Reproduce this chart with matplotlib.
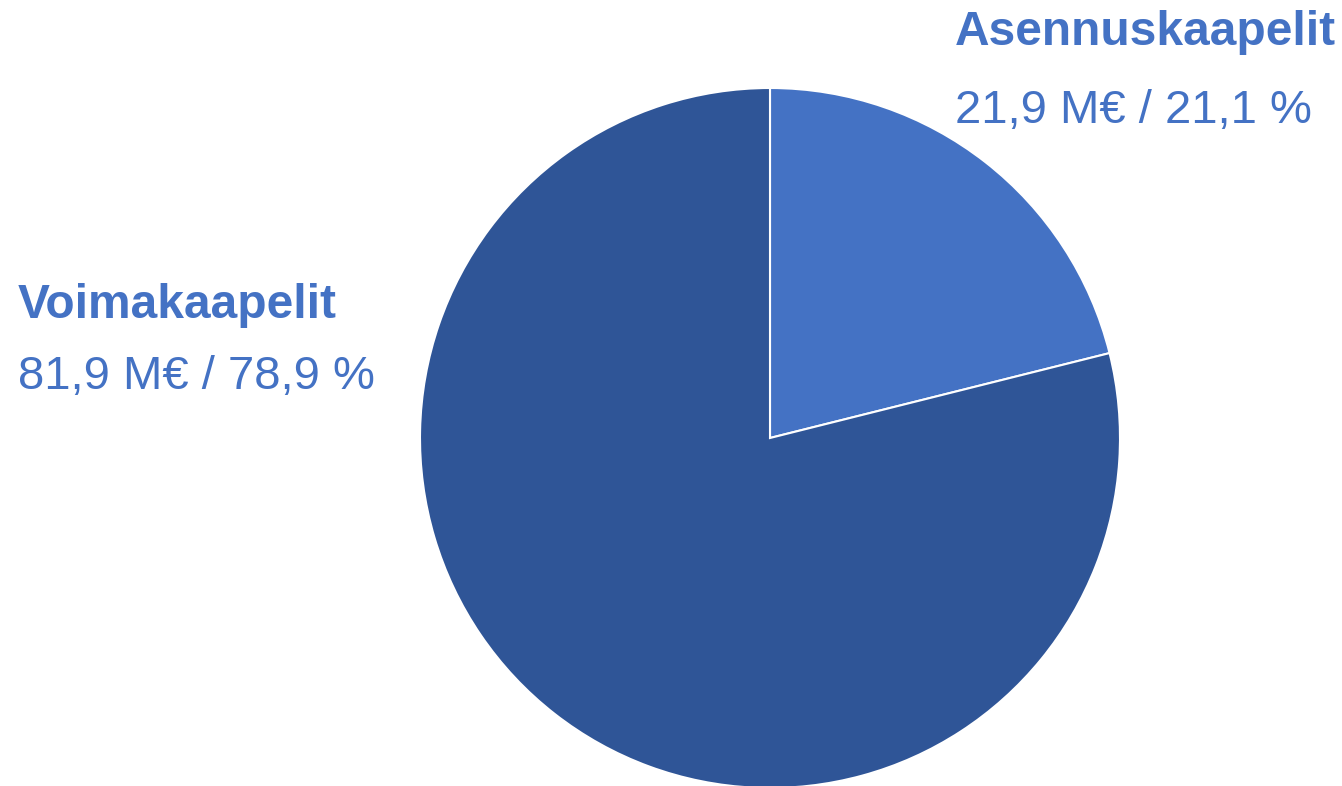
from matplotlib import pyplot as plt

# osuudet liikevaihdosta
nimet = ['Asennuskaapelit', 'Voimakaapelit']
arvot_me = [21.9, 81.9]
osuudet = [21.1, 78.9]
varit = ['#4472C4', '#2F5597']

plt.rcParams['font.family'] = ['Liberation Sans', 'DejaVu Sans']

fig = plt.figure(figsize=(13.42, 7.86), dpi=100)
ax = fig.add_axes([0, 0, 1, 1])

ax.pie(osuudet, colors=varit, startangle=90, counterclock=False,
       center=(770, 348), radius=350, frame=True,
       wedgeprops=dict(edgecolor='white', linewidth=1.5))
ax.set_xlim(0, 1342)
ax.set_ylim(0, 786)
ax.axis('off')

def teksti(i):
    return '%s M€ / %s %%' % (str(arvot_me[i]).replace('.', ','),
                              str(osuudet[i]).replace('.', ','))

txt_col = '#4472C4'
# Asennuskaapelit oikealla ylhäällä
ax.text(955, 786 - 45, nimet[0], fontsize=34.5, fontweight='bold',
        color=txt_col, va='baseline', ha='left')
ax.text(955, 786 - 123, teksti(0), fontsize=34,
        color=txt_col, va='baseline', ha='left')
# Voimakaapelit vasemmalla
ax.text(18, 786 - 318, nimet[1], fontsize=34.5, fontweight='bold',
        color=txt_col, va='baseline', ha='left')
ax.text(18, 786 - 389, teksti(1), fontsize=34,
        color=txt_col, va='baseline', ha='left')

fig.savefig('out.png', dpi=100)
